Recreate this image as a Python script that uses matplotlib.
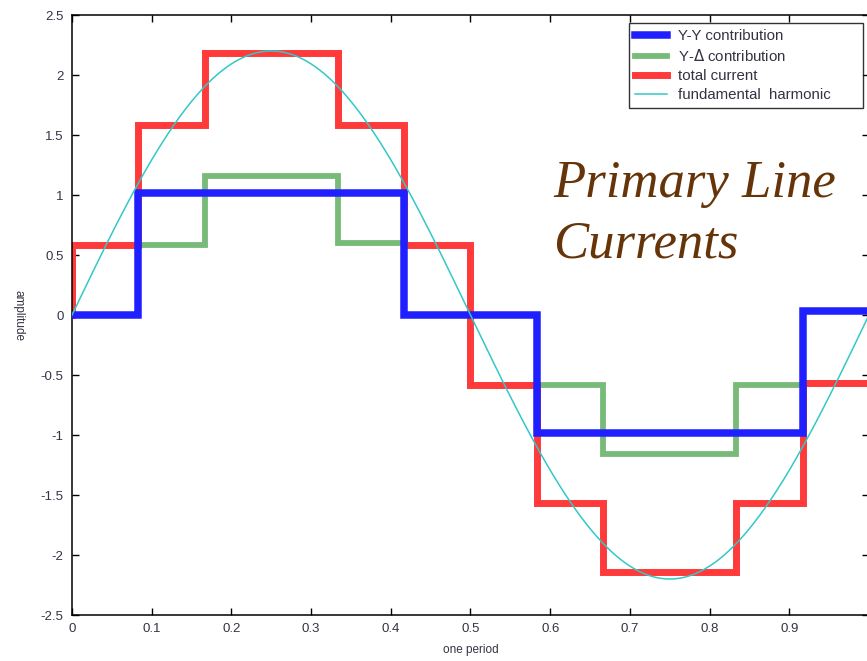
import numpy as np
import matplotlib
matplotlib.use("Agg")
import matplotlib.pyplot as plt

# Step boundaries: twelve 30-degree intervals over one period
edges = [0, 1/12, 2/12, 3/12, 4/12, 5/12, 6/12, 7/12, 8/12, 9/12, 10/12, 11/12, 1]

# Level in each interval
yy_contrib = [0.0, 1.02, 1.02, 1.02, 1.02, 0.0, 0.0, -0.98, -0.98, -0.98, -0.98, 0.03]
yd_contrib = [0.58, 0.58, 1.16, 1.16, 0.60, 0.58, -0.58, -0.58, -1.16, -1.16, -0.58, -0.57]
total_current = [0.58, 1.58, 2.18, 2.18, 1.58, 0.58, -0.58, -1.57, -2.14, -2.14, -1.57, -0.57]
total_start = 0.0

fund_amp = 2.2

xticks = [0, 0.1, 0.2, 0.3, 0.4, 0.5, 0.6, 0.7, 0.8, 0.9]
xticklabels = ["0", "0.1", "0.2", "0.3", "0.4", "0.5", "0.6", "0.7", "0.8", "0.9"]
yticks = [-2.5, -2, -1.5, -1, -0.5, 0, 0.5, 1, 1.5, 2, 2.5]
yticklabels = ["-2.5", "-2", "-1.5", "-1", "-0.5", "0", "0.5", "1", "1.5", "2", "2.5"]

plt.rcParams["font.family"] = ["Liberation Sans", "DejaVu Sans"]

W, H = 867, 661
fig = plt.figure(figsize=(W / 100, H / 100), dpi=100)
ax = fig.add_axes([72 / W, 1 - 615 / H, (869 - 72) / W, (615 - 15) / H])


def stepped(levels, start=None):
    xs = list(edges)
    ys = list(levels) + [levels[-1]]
    if start is not None:
        xs = [edges[0]] + xs
        ys = [start] + ys
    return np.array(xs), np.array(ys)


x, y = stepped(yy_contrib)
ax.plot(x, y, drawstyle="steps-post", color="#1f1fff", lw=5.4,
        solid_joinstyle="miter", label="Y-Y contribution", zorder=3)
x, y = stepped(yd_contrib)
ax.plot(x, y, drawstyle="steps-post", color="#78bb78", lw=4.2,
        solid_joinstyle="miter", label=r"Y-$\Delta$ contribution", zorder=2)
x, y = stepped(total_current, total_start)
ax.plot(x, y, drawstyle="steps-post", color="#ff3a3a", lw=5.0,
        solid_joinstyle="miter", label="total current", zorder=2.5)

t = np.linspace(0, 1, 400)
ax.plot(t, fund_amp * np.sin(2 * np.pi * t), color="#33c8c8", lw=1.1,
        label="fundamental  harmonic", zorder=4)

ax.set_xlim(0, 1)
ax.set_ylim(-2.5, 2.5)
ax.set_xticks(xticks)
ax.set_xticklabels(xticklabels)
ax.set_yticks(yticks)
ax.set_yticklabels(yticklabels)
ax.tick_params(direction="in", length=5, width=1, top=True, right=True,
               labelsize=9.5, labelcolor="#333344", pad=6)
for s in ax.spines.values():
    s.set_linewidth(1.1)

ax.set_xlabel("one period", fontsize=8.5, color="#333344", labelpad=6)
ax.set_ylabel("amplitude", fontsize=8.5, color="#333344", rotation=-90,
              labelpad=16, va="center")

# Legend box spanning a fixed width in the upper right
lx0, lx1 = 629 / W, 863 / W
ly0, ly1 = 1 - 110 / H, 1 - 23 / H
leg = ax.legend(loc="upper left", bbox_to_anchor=(lx0, ly0, lx1 - lx0, ly1 - ly0),
                bbox_transform=fig.transFigure, mode="expand", fontsize=10.8,
                frameon=True, fancybox=False, edgecolor="black", borderpad=0.4,
                labelspacing=0.33, handlelength=2.1, handletextpad=0.75,
                borderaxespad=0)
leg.get_frame().set_linewidth(1.0)
for txt in leg.get_texts():
    txt.set_color("#333344")

fig.text(553 / W, 1 - 197 / H, "Primary Line", fontsize=38, style="italic",
         family="Liberation Serif", color="#663409", va="baseline")
fig.text(553 / W, 1 - 258 / H, "Currents", fontsize=38, style="italic",
         family="Liberation Serif", color="#663409", va="baseline")

fig.savefig("out.png", dpi=100)
